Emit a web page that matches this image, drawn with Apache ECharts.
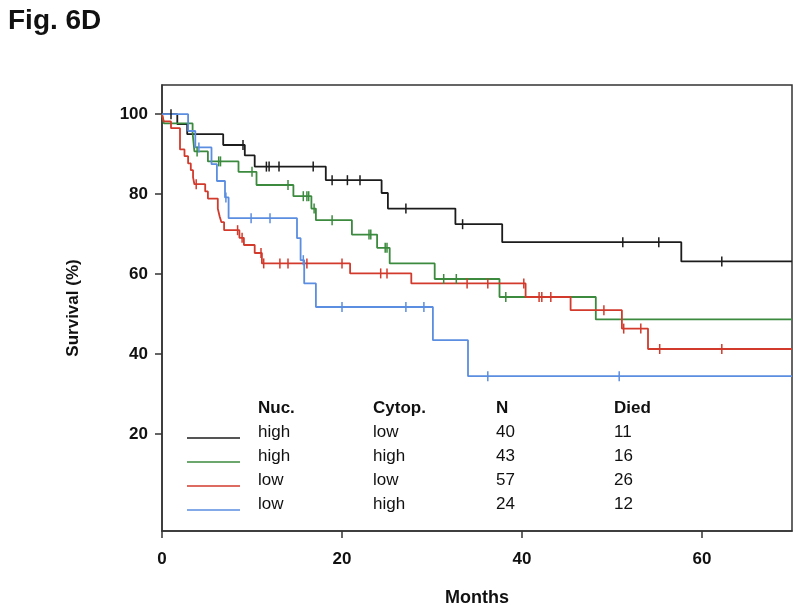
<!DOCTYPE html>
<html><head><meta charset="utf-8">
<script src="https://cdn.jsdelivr.net/npm/echarts@6/dist/echarts.min.js"></script>
<style>html,body{margin:0;padding:0;background:#fff}#c{width:800px;height:614px}</style>
</head><body><div id="c"></div>
<script>
// ---- data (months, survival %) ----
const xTicks = [0, 20, 40, 60];
const yTicks = [20, 40, 60, 80, 100];
const xMax = 70;

const blackT = [0, 1.7, 2.8, 6.8, 9.2, 10.3, 18.2, 24.4, 25.1, 32.6, 37.8, 57.7];
const blackS = [100, 97.5, 95.0, 92.3, 89.7, 86.9, 83.5, 80.3, 76.4, 72.5, 68.0, 63.2];
const blackC = [1.0, 9.0, 11.6, 11.9, 13.0, 16.8, 18.9, 20.6, 22.0, 27.1, 33.4, 51.2, 55.2, 62.2];

const greenT = [0, 0.2, 3.4, 3.6, 5.1, 8.5, 10.5, 14.6, 16.6, 17.1, 21.1, 23.9, 25.3, 30.3, 37.5, 48.2];
const greenS = [100, 97.7, 95.3, 90.7, 88.2, 85.6, 82.3, 79.5, 76.4, 73.5, 69.9, 66.6, 62.7, 58.8, 54.3, 48.7];
const greenC = [3.9, 6.3, 6.5, 10.0, 14.0, 15.7, 16.1, 16.3, 16.9, 18.9, 23.0, 23.2, 24.8, 25.0, 31.3, 32.7, 38.2];

const redT = [0, 0.2, 1.0, 2.0, 2.5, 2.9, 3.2, 3.45, 3.6, 4.8, 5.1, 6.2, 6.4, 6.6, 6.9, 8.6, 9.1, 10.3, 11.1, 20.9, 27.7, 40.4, 45.4, 51.1, 54.0];
const redS = [100, 98.2, 96.5, 91.2, 89.5, 87.7, 86.0, 84.2, 82.5, 80.7, 78.9, 76.4, 74.5, 73.0, 71.0, 69.1, 67.3, 65.3, 62.7, 60.2, 57.7, 54.3, 51.0, 46.4, 41.3];
const redC = [3.8, 8.4, 8.9, 11.0, 11.3, 13.1, 14.0, 16.1, 20.0, 24.3, 25.0, 33.9, 36.2, 40.2, 41.9, 42.2, 43.2, 49.1, 51.3, 53.2, 55.3, 62.2];

const blueT = [0, 2.9, 3.7, 5.5, 6.1, 7.0, 7.4, 15.0, 15.4, 15.8, 17.1, 30.1, 34.0];
const blueS = [100, 95.8, 91.7, 87.5, 83.3, 79.2, 74.0, 69.0, 63.5, 57.7, 51.8, 43.5, 34.5];
const blueC = [4.1, 7.1, 9.9, 12.0, 15.7, 20.0, 27.1, 29.1, 36.2, 50.8];

const colors = ['#1c1c1c', '#3b8a3e', '#d23a2c', '#5b8de0'];
const legendHead = ['Nuc.', 'Cytop.', 'N', 'Died'];
const legNuc = ['high', 'high', 'low', 'low'];
const legCyt = ['low', 'high', 'low', 'high'];
const legN = ['40', '43', '57', '24'];
const legDied = ['11', '16', '26', '12'];

const groups = [
  [blackT, blackS, blackC],
  [greenT, greenS, greenC],
  [redT, redS, redC],
  [blueT, blueS, blueC]
];

function stepPoints(T, S) {
  const pts = T.map((t, i) => [t, S[i]]);
  pts.push([xMax, S[S.length - 1]]);
  return pts;
}
function survAt(T, S, c) {
  let v = S[0];
  for (let i = 0; i < T.length; i++) if (T[i] <= c) v = S[i];
  return v;
}

const FONT = '"Liberation Sans", Arial, Helvetica, sans-serif';
const series = [];
groups.forEach((g, k) => {
  series.push({
    type: 'line', step: 'end', data: stepPoints(g[0], g[1]),
    symbol: 'none', lineStyle: { color: colors[k], width: 1.8 },
    z: 3, animation: false
  });
  series.push({
    type: 'custom', z: 4, animation: false,
    data: g[2].map(c => [c, survAt(g[0], g[1], c)]),
    renderItem: function (params, api) {
      const p = api.coord([api.value(0), api.value(1)]);
      return { type: 'line', shape: { x1: p[0], y1: p[1] - 5, x2: p[0], y2: p[1] + 5 },
        style: { stroke: colors[k], lineWidth: 1.5 } };
    }
  });
});

// legend drawn as graphics
const graphic = [];
const colX = [258, 373, 496, 614];
const rowY = [410, 434, 458, 482, 506];
legendHead.forEach((h, i) => graphic.push({ type: 'text', left: colX[i], top: rowY[0] - 10,
  style: { text: h, font: 'bold 17px ' + FONT, fill: '#111' } }));
[legNuc, legCyt, legN, legDied].forEach((col, i) => col.forEach((v, r) => graphic.push({
  type: 'text', left: colX[i], top: rowY[r + 1] - 10,
  style: { text: v, font: '17px ' + FONT, fill: '#111' } })));
colors.forEach((c, r) => graphic.push({ type: 'line', shape: { x1: 187, y1: rowY[r + 1] + 4, x2: 240, y2: rowY[r + 1] + 4 },
  style: { stroke: c, lineWidth: 1.5 } }));
graphic.push({ type: 'text', left: 8, top: 7, style: { text: 'Fig. 6D', font: 'bold 28px ' + FONT, fill: '#111' } });

const chart = echarts.init(document.getElementById('c'), null, { renderer: 'canvas' });
chart.setOption({
  animation: false,
  backgroundColor: '#fff',
  grid: { left: 162, right: 8, top: 85, bottom: 83, show: true, borderColor: '#333', borderWidth: 1.5 },
  xAxis: {
    type: 'value', min: 0, max: xMax,
    name: 'Months', nameLocation: 'middle', nameGap: 58,
    nameTextStyle: { color: '#111', fontWeight: 'bold', fontSize: 18, fontFamily: FONT },
    axisLine: { show: true, onZero: false, lineStyle: { color: '#333', width: 1.5 } },
    axisTick: { show: true, length: 7, customValues: xTicks, lineStyle: { color: '#333', width: 1.5 } },
    axisLabel: { customValues: xTicks, margin: 20, color: '#111', fontWeight: 'bold', fontSize: 17, fontFamily: FONT },
    splitLine: { show: false }
  },
  yAxis: {
    type: 'value', min: -4.2, max: 107.3,
    name: 'Survival (%)', nameLocation: 'middle', nameGap: 80, nameRotate: 90,
    nameTextStyle: { color: '#111', fontWeight: 'bold', fontSize: 17, fontFamily: FONT },
    axisLine: { show: true, onZero: false, lineStyle: { color: '#333', width: 1.5 } },
    axisTick: { show: true, length: 7, customValues: yTicks, lineStyle: { color: '#333', width: 1.5 } },
    axisLabel: { customValues: yTicks, margin: 14, color: '#111', fontWeight: 'bold', fontSize: 17, fontFamily: FONT },
    splitLine: { show: false }
  },
  series: series,
  graphic: graphic
});
</script></body></html>
